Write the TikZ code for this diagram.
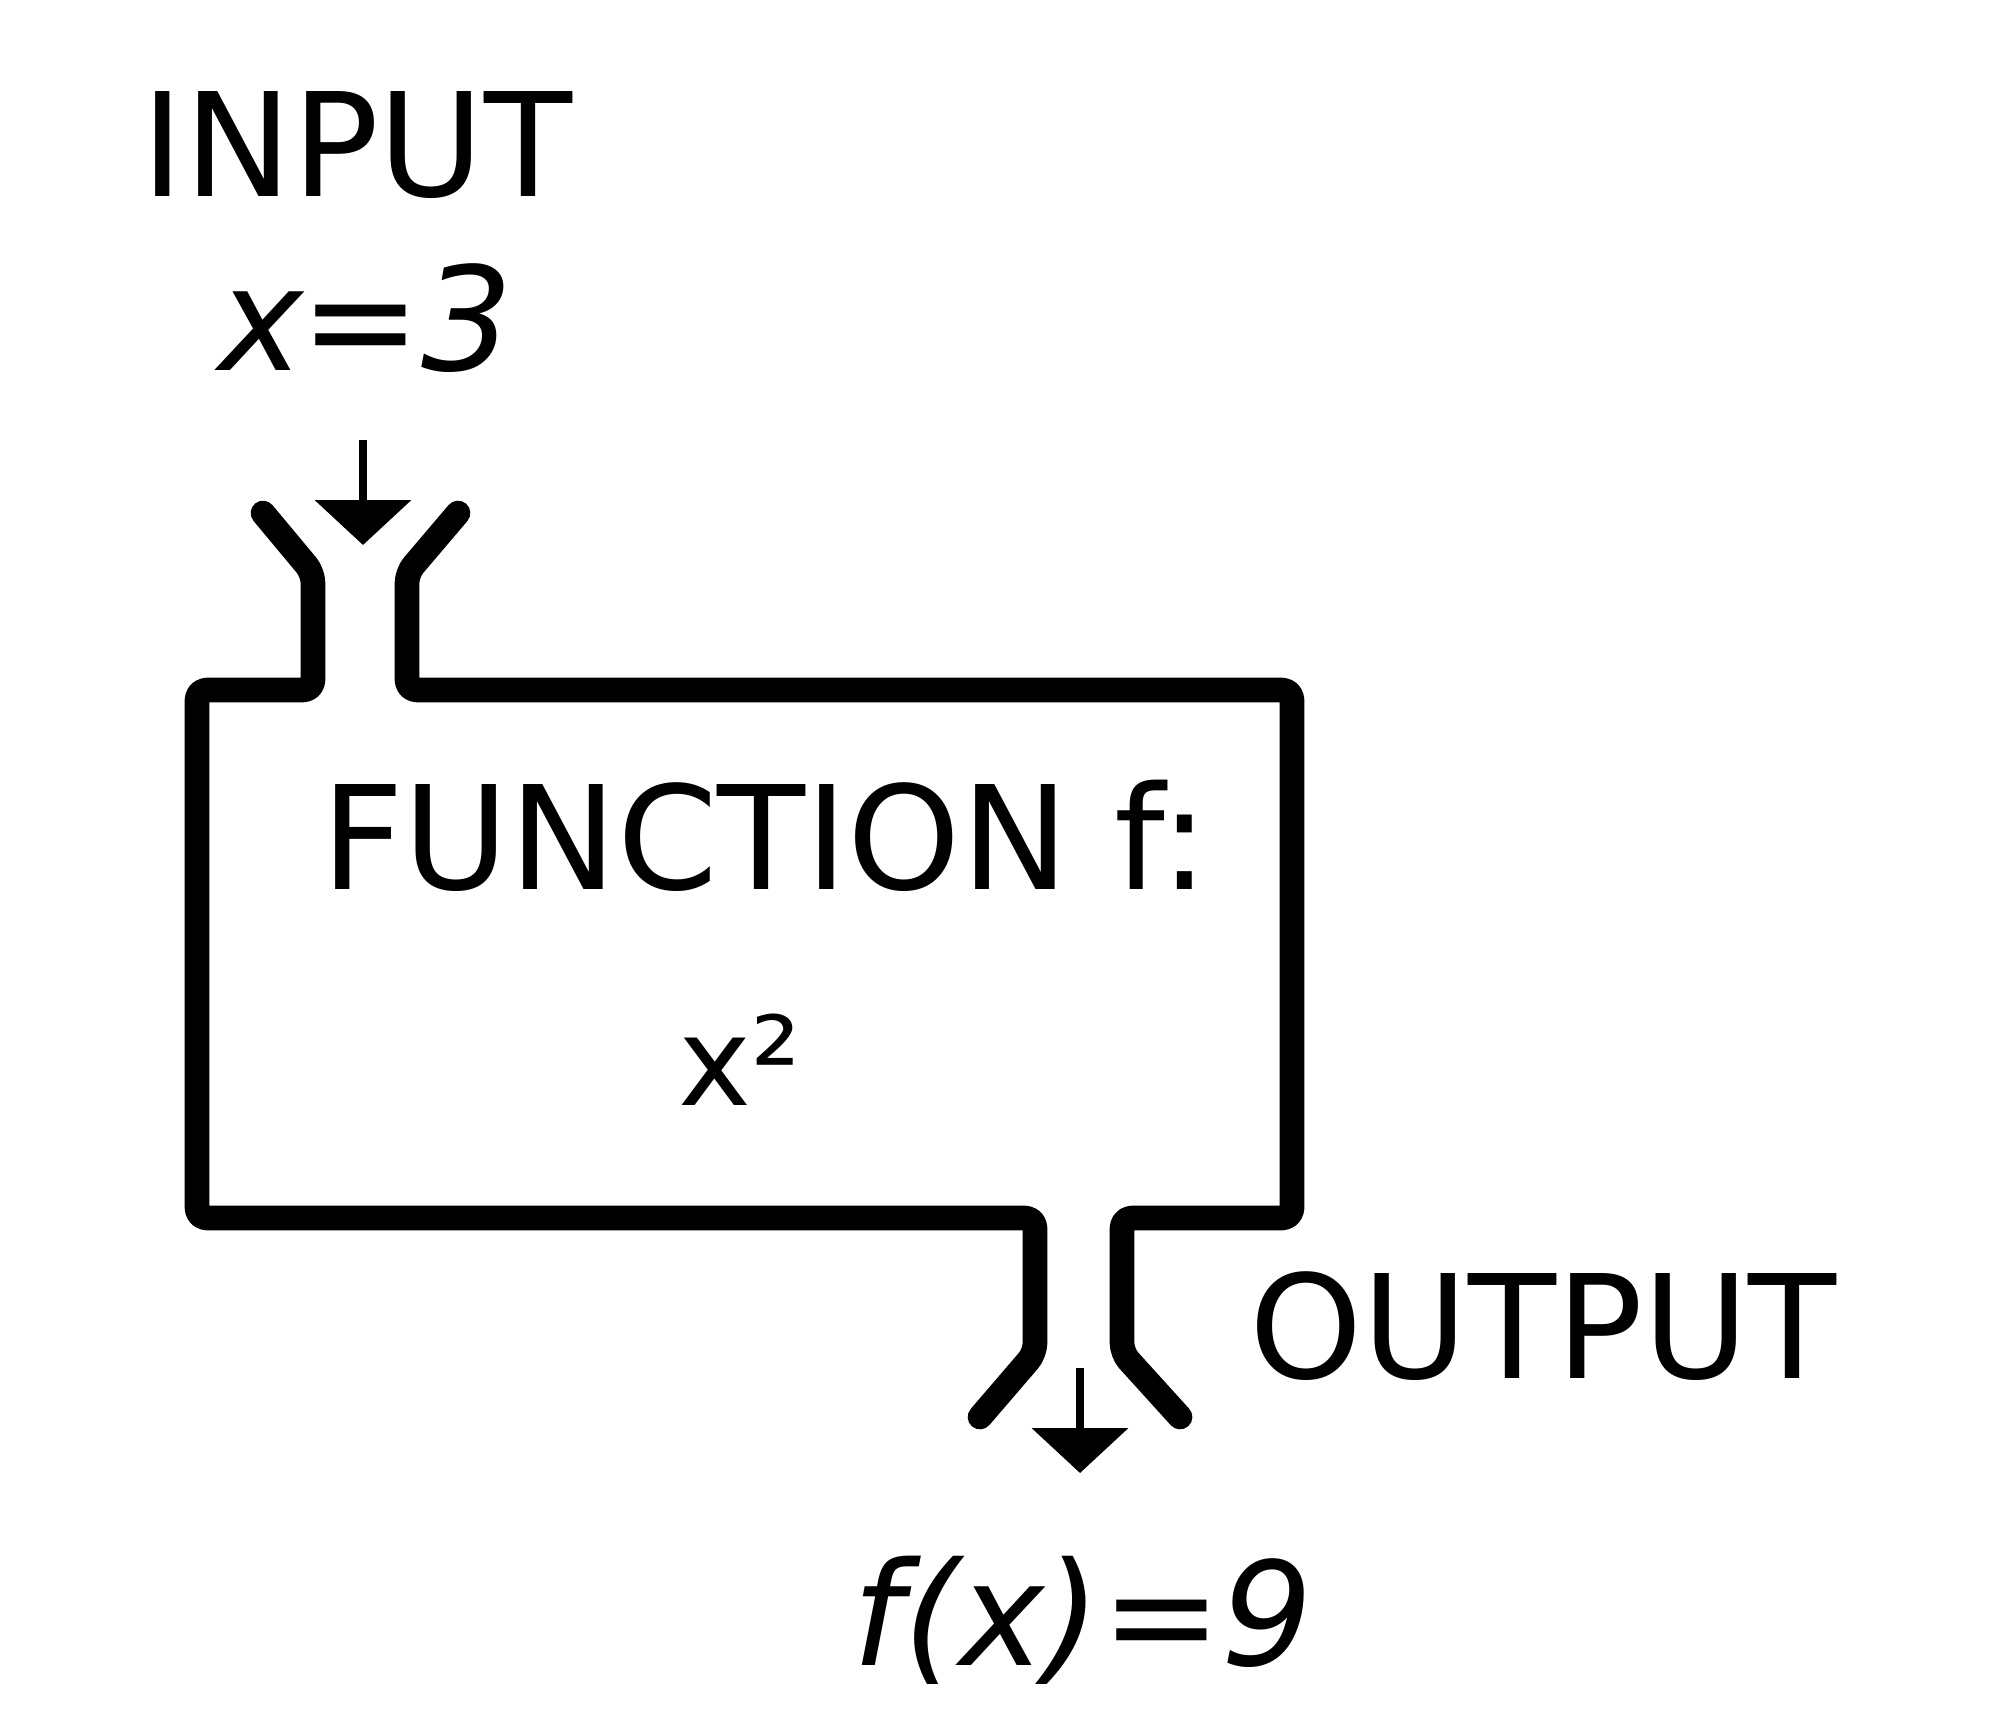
\documentclass[tikz,border=0pt]{standalone}
\usepackage{fontspec}
\setmainfont{DejaVu Sans}
\usetikzlibrary{arrows.meta}
\begin{document}
\begin{tikzpicture}[x=0.3pt,y=-0.3pt,
  wall/.style={line width=7.4pt, line cap=round, line join=round, rounded corners=3pt},
  flow/.style={line width=2.6pt, -{Triangle[width=28.5pt,length=13.5pt]}},
  lbl/.style={anchor=base, inner sep=0pt, font=\fontsize{43.2}{52}\selectfont}]
\useasboundingbox (0,0) rectangle (2000,1734);
% labels
\node[lbl] (input) at (357,197) {INPUT};
\node[lbl] (xval) at (366,370) {\itshape x\kern-1pt=3};
\node[lbl] (func) at (765,889) {FUNCTION f:};
\node[lbl, font=\fontsize{37}{44}\selectfont] (rule) at (740,1105) {x²};
\node[lbl] (output) at (1543,1378) {OUTPUT};
\node[lbl] (fval) at (1083,1665) {\itshape f(x)=9};
% machine outline
\draw[wall] (263,513) -- (313,573) -- (313,690) -- (197,690) -- (197,1218)
  -- (1035,1218) -- (1035,1353) -- (980,1417);
\draw[wall] (458,513) -- (407,573) -- (407,690) -- (1292,690) -- (1292,1218)
  -- (1122,1218) -- (1122,1353) -- (1180,1417);
% flow arrows
\coordinate (inTop) at (363,440);
\coordinate (inThroat) at (363,545);
\coordinate (outThroat) at (1080,1368);
\coordinate (outEnd) at (1080,1473);
\draw[flow] (inTop) -- (inThroat);
\draw[flow] (outThroat) -- (outEnd);
\end{tikzpicture}
\end{document}
